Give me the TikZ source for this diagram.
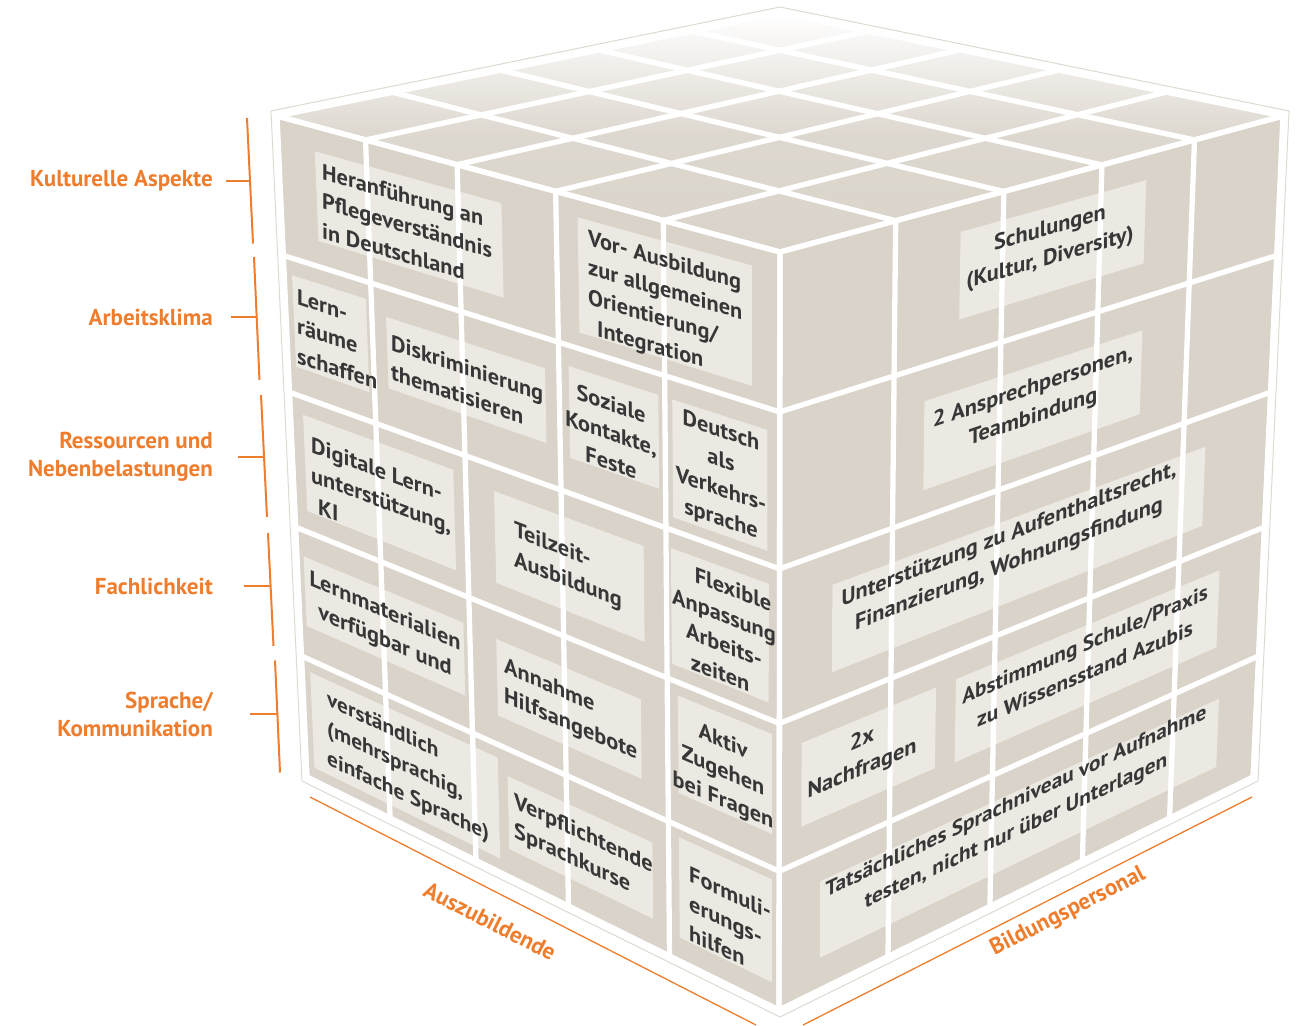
\documentclass[tikz,border=0pt]{standalone}
\usepackage{fontspec}
\setmainfont{PT Sans}
\definecolor{facec}{RGB}{217,211,201}
\definecolor{boxc}{RGB}{236,233,227}
\definecolor{txtc}{RGB}{55,55,55}
\definecolor{orng}{RGB}{238,125,45}
\definecolor{framec}{RGB}{222,217,209}
\newcommand\setface[8]{\def\fAx{#1}\def\fAy{#2}\def\fBx{#3}\def\fBy{#4}\def\fCx{#5}\def\fCy{#6}\def\fDx{#7}\def\fDy{#8}}
\newcommand\fpt[3]{%
  \pgfmathsetmacro\mx{(1-(#2))*(1-(#3))*\fAx+(#2)*(1-(#3))*\fBx+(#2)*(#3)*\fCx+(1-(#2))*(#3)*\fDx}%
  \pgfmathsetmacro\my{(1-(#2))*(1-(#3))*\fAy+(#2)*(1-(#3))*\fBy+(#2)*(#3)*\fCy+(1-(#2))*(#3)*\fDy}%
  \coordinate (#1) at (\mx,\my);}
\newcommand\tbox[5]{\fpt{#1a}{#2}{#4}\fpt{#1b}{#3}{#4}\fpt{#1c}{#3}{#5}\fpt{#1d}{#2}{#5}%
  \fill[boxc] (#1a)--(#1b)--(#1c)--(#1d)--cycle;}
\newcommand\fgrid[2]{%
  \foreach \gu in {#1}{\fpt{gp}{\gu}{0}\fpt{gq}{\gu}{1}\draw[gridl] (gp)--(gq);}%
  \foreach \gv in {#2}{\fpt{gp}{0}{\gv}\fpt{gq}{1}{\gv}\draw[gridl] (gp)--(gq);}}
\begin{document}
\begin{tikzpicture}[x=1pt,y=-1pt,
  gridl/.style={white, line width=5.3pt, line cap=round},
  txt/.style={font=\fontsize{22.3}{29.5}\selectfont\bfseries, text=txtc, inner sep=0pt},
  txts/.style={font=\fontsize{21.3}{29.5}\selectfont\bfseries, text=txtc, inner sep=0pt},
  lab/.style={font=\fontsize{23}{28}\selectfont\bfseries, text=orng, align=right, anchor=east, inner sep=0pt},
  axl/.style={font=\fontsize{23}{28}\selectfont\bfseries, text=orng, inner sep=0pt},
  orl/.style={draw=orng, line width=2pt},
  axline/.style={draw=orng, line width=1.3pt}]
\useasboundingbox (0,0) rectangle (1300,1025);
% faces
\fill[facec] (277,116)--(780,252)--(779,1010)--(307,777)--cycle;
\fill[facec] (780,252)--(1283,116)--(1253,777)--(779,1010)--cycle;
\shade[top color=white, bottom color=facec, middle color=facec!88!white] (277,116)--(780,13)--(1283,116)--(780,252)--cycle;
% outer frame
\draw[framec, line width=1pt, line join=round] (780,7)--(1289,111)--(1258,781)--(780,1017)--(302,781)--(271,111)--cycle;
% left face boxes
\setface{277}{116}{780}{252}{779}{1010}{307}{777}
\tbox{B1}{0.073}{0.445}{0.038}{0.172}
\tbox{B2}{0.016}{0.165}{0.237}{0.375}
\tbox{B3}{0.205}{0.526}{0.254}{0.359}
\tbox{B4}{0.597}{0.944}{0.028}{0.188}
\tbox{B5}{0.574}{0.755}{0.240}{0.368}
\tbox{B6}{0.783}{0.975}{0.240}{0.400}
\tbox{B7}{0.026}{0.333}{0.445}{0.590}
\tbox{B8}{0.416}{0.722}{0.454}{0.585}
\tbox{B9}{0.014}{0.345}{0.662}{0.767}
\tbox{B10}{0.778}{0.978}{0.443}{0.600}
\tbox{B11}{0.413}{0.713}{0.666}{0.775}
\tbox{B12}{0.017}{0.410}{0.836}{0.980}
\tbox{B13}{0.430}{0.734}{0.856}{0.960}
\tbox{B14}{0.790}{0.985}{0.640}{0.772}
\tbox{B15}{0.790}{0.985}{0.832}{0.968}
% right face boxes
\setface{780}{252}{1283}{116}{1253}{777}{779}{1010}
\tbox{R1}{0.360}{0.730}{0.040}{0.161}
\tbox{R2}{0.292}{0.732}{0.259}{0.381}
\tbox{R3}{0.108}{0.870}{0.465}{0.582}
\tbox{R4}{0.365}{0.910}{0.660}{0.775}
\tbox{R5}{0.046}{0.324}{0.660}{0.771}
\tbox{R6}{0.086}{0.920}{0.855}{0.957}
% grids
\setface{277}{116}{780}{252}{779}{1010}{307}{777}
\fgrid{0,0.176,0.358,0.554,0.768,1}{0,0.211,0.418,0.622,0.817,1}
\setface{780}{252}{1283}{116}{1253}{777}{779}{1010}
\fgrid{0,0.23,0.445,0.64,0.824,1}{0,0.211,0.418,0.622,0.817,1}
\setface{277}{116}{780}{252}{1283}{116}{780}{13}
\fgrid{0,0.176,0.358,0.554,0.768,1}{0,0.23,0.445,0.64,0.824,1}
% left face texts
\node[txt, align=left, anchor=west, yslant=-0.29] (t1) at (322,201) {Heranführung an\\Pflegeverständnis\\in Deutschland};
\node[txt, align=left, anchor=west, yslant=-0.33] (t2) at (297,326) {Lern-\\räume\\schaffen};
\node[txt, align=left, anchor=west, yslant=-0.337] (t3) at (391,357) {Diskriminierung\\thematisieren};
\node[txt, align=left, anchor=west, yslant=-0.29] (t4) at (588,284) {Vor- Ausbildung\\zur allgemeinen\\Orientierung/\\\hspace*{9pt}Integration};
\node[txt, align=center, yslant=-0.34] (t5) at (611,433) {Soziale\\Kontakte,\\Feste};
\node[txt, align=center, yslant=-0.34] (t6) at (721,476) {Deutsch\\als\\Verkehrs-\\sprache};
\node[txt, align=left, anchor=west, yslant=-0.37] (t7) at (311,474) {Digitale Lern-\\unterstützung,\\\hspace*{7pt}KI};
\node[txt, align=left, anchor=west, yslant=-0.385] (t8) at (514,546) {Teilzeit-\\Ausbildung};
\node[txt, align=center, yslant=-0.43] (t9) at (385,627) {Lernmaterialien\\verfügbar und};
\node[txt, align=center, yslant=-0.385] (t10) at (724,630) {\hspace*{18pt}Flexible\\Anpassung\\Arbeits-\\zeiten\hspace*{8pt}};
\node[txt, align=left, anchor=west, yslant=-0.43] (t11) at (504,682) {Annahme\\Hilfsangebote};
\node[txts, align=left, anchor=west, yslant=-0.47] (t12) at (327,730) {verständlich\\(mehrsprachig,\\einfache Sprache)};
\node[txt, align=left, anchor=west, yslant=-0.47] (t13) at (514,817) {Verpflichtende\\Sprachkurse};
\node[txt, align=center, yslant=-0.43] (t14) at (723,772) {Aktiv\\Zugehen\\bei Fragen};
\node[txt, align=left, anchor=west, yslant=-0.47] (t15) at (689,903) {Formuli-\\erungs-\\hilfen};
% right face texts
\node[txt, align=center, yslant=0.29] (r1) at (1050,244) {Schulungen\\(Kultur, Diversity)};
\node[txt, align=center, yslant=0.34] (r2) at (1033,403) {2 Ansprechpersonen,\\Teambindung};
\node[txt, align=center, yslant=0.39] (r3) at (1009,550) {Unterstützung zu Aufenthaltsrecht,\\Finanzierung, Wohnungsfindung};
\node[txts, align=center, yslant=0.43] (r4) at (1085,659) {Abstimmung Schule/Praxis\\zu Wissensstand Azubis};
\node[txt, align=center, yslant=0.43] (r5) at (862,755) {2x\\Nachfragen};
\node[txts, align=center, yslant=0.47] (r6) at (1016,817) {Tatsächliches Sprachniveau vor Aufnahme\\testen, nicht nur über Unterlagen};
% category labels
\node[lab] (k1) at (213,181) {Kulturelle Aspekte};
\node[lab] (k2) at (213,317) {Arbeitsklima};
\node[lab] (k3) at (213,457) {Ressourcen und\\Nebenbelastungen};
\node[lab] (k4) at (213,586) {Fachlichkeit};
\node[lab] (k5) at (213,714) {Sprache/\\Kommunikation};
\coordinate (b1t) at (247,118); \coordinate (b1b) at (253,243.5); \coordinate (b1m) at (250,181);
\coordinate (b2t) at (254,257); \coordinate (b2b) at (259.5,380); \coordinate (b2m) at (256.7,317);
\coordinate (b3t) at (261,395); \coordinate (b3b) at (267,517); \coordinate (b3m) at (264,457);
\coordinate (b4t) at (268,533); \coordinate (b4b) at (273.5,646); \coordinate (b4m) at (270.5,586);
\coordinate (b5t) at (275,660.5); \coordinate (b5b) at (280,772.5); \coordinate (b5m) at (277.5,714);
\draw[orl] (b1t)--(b1b); \draw[orl] (b1m)--++(-24,0);
\draw[orl] (b2t)--(b2b); \draw[orl] (b2m)--++(-26,0);
\draw[orl] (b3t)--(b3b); \draw[orl] (b3m)--++(-26,0);
\draw[orl] (b4t)--(b4b); \draw[orl] (b4m)--++(-27,0);
\draw[orl] (b5t)--(b5b); \draw[orl] (b5m)--++(-28,0);
% axes
\coordinate (a1s) at (310,797); \coordinate (a1e) at (756,1025);
\coordinate (a2s) at (1252,797); \coordinate (a2e) at (803,1025);
\draw[axline] (a1s)--(a1e);
\draw[axline] (a2s)--(a2e);
\node[axl, rotate=-27] (ax1) at (490,921) {Auszubildende};
\node[axl, rotate=27] (ax2) at (1068,912) {Bildungspersonal};
\end{tikzpicture}
\end{document}
